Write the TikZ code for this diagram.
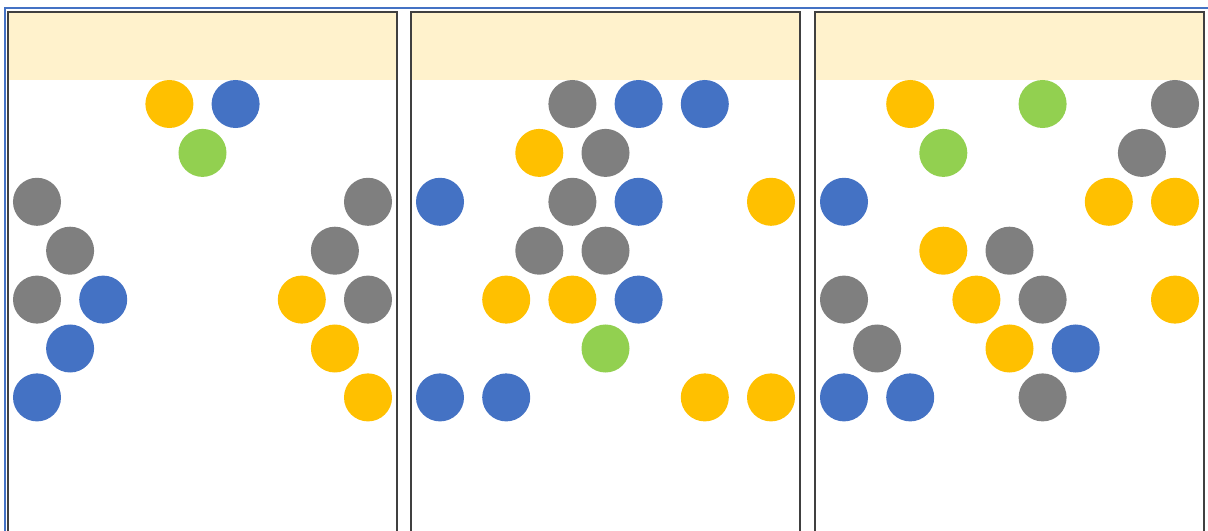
\documentclass[tikz,border=0pt]{standalone}
\usepackage{tikz}
\usetikzlibrary{positioning}
\usepackage{xcolor}
\definecolor{dotyellow}{RGB}{255,192,0}
\definecolor{dotblue}{RGB}{68,114,196}
\definecolor{dotgray}{RGB}{127,127,127}
\definecolor{dotgreen}{RGB}{146,208,80}
\definecolor{headfill}{RGB}{255,242,204}
\definecolor{framegray}{RGB}{64,64,64}

\begin{document}
\begin{tikzpicture}[x=0.025cm, y=-0.025cm,
  dot/.style={circle, minimum size=1.2cm, inner sep=0pt},
  panelframe/.style={draw=framegray, line width=1.1pt}]
  \useasboundingbox (0,0) rectangle (1208,531);
  \def\pw{389}\def\gx{33.1}\def\gy{48.9}

  % outer frame
  \draw[dotblue, line width=1.4pt] (5,531) -- (5,8) -- (1208,8);

  % Panels with header band
  \foreach \ox in {8,411,815}{
    \fill[headfill] (\ox,12) rectangle (\ox+\pw,80);
    \draw[panelframe] (\ox,531) -- (\ox,12) -- (\ox+\pw,12) -- (\ox+\pw,531);
  }

  % Panel 1
  \def\ox{8}
  \foreach \k/\j/\c in {4/0/dotyellow, 6/0/dotblue, 5/1/dotgreen,
      0/2/dotgray, 10/2/dotgray, 1/3/dotgray, 9/3/dotgray,
      0/4/dotgray, 2/4/dotblue, 8/4/dotyellow, 10/4/dotgray,
      1/5/dotblue, 9/5/dotyellow, 0/6/dotblue, 10/6/dotyellow}
    \node[dot, fill=\c] (a-\k-\j) at (\ox+29+\k*\gx, 104+\j*\gy) {};

  % Panel 2
  \def\ox{411}
  \foreach \k/\j/\c in {4/0/dotgray, 6/0/dotblue, 8/0/dotblue,
      3/1/dotyellow, 5/1/dotgray,
      0/2/dotblue, 4/2/dotgray, 6/2/dotblue, 10/2/dotyellow,
      3/3/dotgray, 5/3/dotgray,
      2/4/dotyellow, 4/4/dotyellow, 6/4/dotblue, 5/5/dotgreen,
      0/6/dotblue, 2/6/dotblue, 8/6/dotyellow, 10/6/dotyellow}
    \node[dot, fill=\c] (b-\k-\j) at (\ox+29+\k*\gx, 104+\j*\gy) {};

  % Panel 3
  \def\ox{815}
  \foreach \k/\j/\c in {2/0/dotyellow, 6/0/dotgreen, 10/0/dotgray,
      3/1/dotgreen, 9/1/dotgray,
      0/2/dotblue, 8/2/dotyellow, 10/2/dotyellow,
      3/3/dotyellow, 5/3/dotgray,
      0/4/dotgray, 4/4/dotyellow, 6/4/dotgray, 10/4/dotyellow,
      1/5/dotgray, 5/5/dotyellow, 7/5/dotblue,
      0/6/dotblue, 2/6/dotblue, 6/6/dotgray}
    \node[dot, fill=\c] (c-\k-\j) at (\ox+29+\k*\gx, 104+\j*\gy) {};

\end{tikzpicture}
\end{document}
